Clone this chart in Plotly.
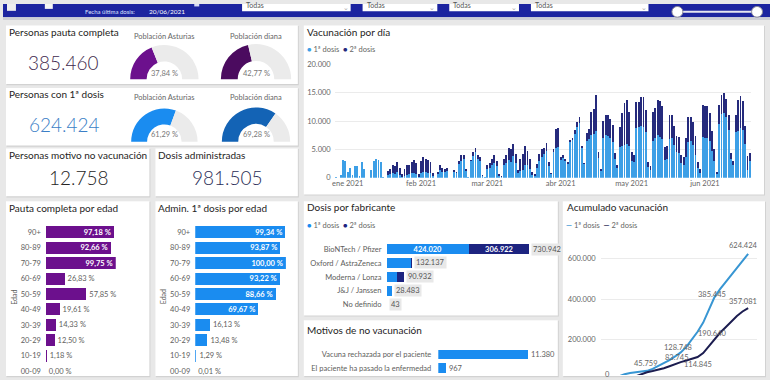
import pandas as pd
import plotly.graph_objects as go

W, H = 770, 380
FONT = "Segoe UI, Lato, sans-serif"

# ---------------- data ----------------
fecha_ultima_dosis = "20/06/2021"
filtros = ["Todas", "Todas", "Todas", "Todas"]

personas_pauta_completa = 385460
personas_primera_dosis = 624424
personas_no_vacunacion = 12758
dosis_administradas = 981505

gauge_etiquetas = ["Población Asturias", "Población diana"]
pauta_completa_pct = [37.84, 42.77]
primera_dosis_pct = [61.29, 69.28]

edades = ["90+", "80-89", "70-79", "60-69", "50-59", "40-49", "30-39", "20-29", "10-19", "00-09"]
pauta_por_edad = [97.18, 92.66, 99.75, 26.83, 57.85, 19.61, 14.33, 12.50, 1.18, 0.00]
primera_por_edad = [99.34, 93.87, 100.00, 93.22, 88.66, 69.67, 16.13, 13.48, 1.29, 0.01]

fabricantes = ["BioNTech / Pfizer", "Oxford / AstraZeneca", "Moderna / Lonza", "J&J / Janssen", "No definido"]
fabricante_dosis1 = [424020, 128137, 56000, 28483, 43]
fabricante_dosis2 = [306922, 4000, 34932, 0, 0]

motivos = ["Vacuna rechazada por el paciente", "El paciente ha pasado la enfermedad"]
motivos_personas = [11380, 967]

inicio = "2020-12-27"
dosis1_dia = [
    200,
    0, 500, 3200, 3000, 1000, 1800, 500,
    2100, 2000, 300, 2700, 1600, 0, 0,
    1400, 3000, 3400, 3100, 2700, 200, 0,
    500, 600, 900, 700, 1000, 500, 200,
    400, 500, 600, 800, 900, 600, 200,
    900, 1100, 1000, 900, 800, 300, 0,
    700, 1300, 1100, 1000, 1200, 0, 0,
    1100, 800, 2500, 3000, 3300, 1200, 200,
    2900, 3900, 4500, 3300, 3000, 400, 200,
    1600, 1700, 2300, 2600, 2000, 400, 200,
    2300, 2600, 3100, 2800, 3800, 2600, 900,
    1200, 1400, 2300, 2200, 1600, 500, 400,
    1800, 3000, 3700, 4200, 4800, 2100, 700,
    4500, 5200, 5500, 3200, 3500, 2900, 2400,
    6300, 6600, 7800, 9000, 9700, 5200, 2400,
    6500, 6800, 7500, 7800, 8200, 3500, 1200,
    7000, 7500, 7300, 7000, 6400, 3300, 1800,
    5500, 5700, 5800, 6000, 5600, 3000, 2800,
    8800, 8900, 9200, 9000, 8000, 1900, 1400,
    6500, 7000, 7500, 7200, 6800, 3200, 3300,
    6900, 7000, 5800, 4500, 4400, 2600, 2300,
    3700, 6300, 6500, 5800, 4000, 1700, 900,
    7200, 7000, 7100, 6500, 4800, 3000, 600,
    9500, 11200, 11400, 10800, 8500, 3300, 2300,
    8000, 8200, 8800, 8500, 6000, 1300, 3000,
]
dosis2_dia = [
    0,
    0, 0, 0, 0, 0, 0, 0,
    0, 0, 0, 0, 0, 0, 0,
    0, 0, 0, 0, 0, 0, 0,
    700, 900, 1300, 1300, 1700, 1300, 500,
    1100, 1700, 1700, 2000, 2200, 2000, 500,
    2100, 2500, 2300, 2200, 1900, 500, 0,
    300, 900, 600, 500, 600, 0, 0,
    200, 200, 500, 1100, 800, 300, 0,
    300, 600, 800, 700, 700, 100, 0,
    700, 900, 1100, 1400, 1000, 200, 100,
    1000, 1400, 2100, 2200, 2200, 1600, 400,
    2100, 2800, 3300, 2600, 1700, 500, 300,
    600, 1200, 1300, 1100, 1300, 600, 200,
    500, 3500, 3300, 500, 500, 400, 400,
    400, 500, 700, 800, 1000, 500, 200,
    1400, 1800, 4200, 4300, 6500, 1100, 300,
    3000, 3500, 3700, 3400, 3000, 1100, 500,
    3500, 5800, 7400, 7700, 6000, 1600, 1300,
    4600, 4500, 5100, 5300, 4000, 900, 600,
    5100, 5400, 6300, 6300, 5800, 2300, 2300,
    4200, 4100, 3400, 2800, 2800, 1400, 1300,
    3400, 4400, 4200, 4000, 3300, 1000, 600,
    5600, 5600, 5600, 5000, 3400, 2000, 400,
    3300, 3500, 3600, 3100, 2500, 1100, 700,
    3100, 5600, 5700, 5000, 3200, 2500, 1400,
]
meses_ticks = ["2021-01-01", "2021-02-01", "2021-03-01", "2021-04-01", "2021-05-01", "2021-06-01"]
meses_etiquetas = ["ene 2021", "feb 2021", "mar 2021", "abr 2021", "may 2021", "jun 2021"]

# accumulated (weekly, from 27/12/2020)
acum_dosis1 = [0, 10000, 19000, 30000, 36000, 40000, 43000, 47000, 57000, 70000, 84000, 100000, 118000,
               138000, 165000, 200000, 240000, 285000, 345000, 410000, 450000, 485000, 517000, 552000,
               590000, 624424]
acum_dosis2 = [0, 0, 0, 2000, 10000, 20000, 32000, 40000, 46000, 52000, 60000, 70000, 82000,
               90000, 98000, 106000, 115000, 135000, 170000, 205000, 235000, 262000, 290000, 318000,
               340000, 357081]
etq_fechas = ["2021-02-13", "2021-03-24", "2021-05-06", "2021-06-20",
              "2021-03-23", "2021-04-18", "2021-05-06", "2021-06-20"]
etq_valores = [45759, 128748, 385445, 624424, 83745, 114845, 190640, 357081]
etq_serie = [1, 1, 1, 1, 2, 2, 2, 2]

# ---------------- helpers ----------------
def px(x):
    return x / W


def py(y):
    return 1 - y / H


def miles(v):
    return f"{v:,}".replace(",", ".")


def pct(v):
    return f"{v:.2f}".replace(".", ",") + " %"


TITLE_C = "#252423"
LABEL_C = "#605e5c"
C1 = "#3d9fe6"
C2 = "#252a7c"
BLUE = "#1a8cf0"
PURPLE = "#6c108d"

fig = go.Figure()
shapes = []
annots = []


def rect(x0, y0, x1, y1, fill, line_color=None, lw=0):
    shapes.append(dict(type="rect", xref="paper", yref="paper", x0=px(x0), x1=px(x1),
                       y0=py(y1), y1=py(y0), fillcolor=fill,
                       line=dict(width=lw, color=line_color or fill), layer="below"))


def text(x, y, s, size=10, color=TITLE_C, xanchor="left", yanchor="middle", weight="normal", **kw):
    annots.append(dict(x=px(x), y=py(y), xref="paper", yref="paper", text=s, showarrow=False,
                       xanchor=xanchor, yanchor=yanchor,
                       font=dict(family=FONT, size=size, color=color, weight=weight), **kw))


# ---------------- banner ----------------
rect(0, 0, 770, 13.5, "#1c24a0")
rect(0, 13.5, 770, 16.5, "#cdced6")
rect(4, 0, 13, 7, "#eeeeee")
rect(42, 0, 50, 5, "#f4f4f4")
rect(192, 0, 197, 2.5, "#d8dcf5")
text(80, 7.3, "Fecha última dosis:", 6, "#dfe3ff")
text(145, 7.3, fecha_ultima_dosis, 6.5, "#ffffff")
for (x0, x1), f in zip([(240, 349), (361, 436), (448, 518), (530, 648)], filtros):
    rect(x0, 0, x1, 7.5, "#ffffff")
    text(x0 + 2, 1.5, f, 7, "#555555")
    text(x1 - 10, 3, "⌄", 7, "#aaaaaa")
shapes.append(dict(type="line", xref="paper", yref="paper", x0=px(677), x1=px(757), y0=py(8), y1=py(8),
                   line=dict(color="#e6e6f0", width=2)))
for cx in (677, 757):
    shapes.append(dict(type="circle", xref="paper", yref="paper", x0=px(cx - 5.5), x1=px(cx + 5.5),
                       y0=py(13.5), y1=py(2.5), fillcolor="#ffffff", line=dict(color="#8a8a9a", width=1)))

# ---------------- cards ----------------
cards = [(3, 22, 296, 82), (3, 86, 296, 145), (3, 148, 147, 197), (153, 148, 296, 197),
         (3, 202, 147, 381), (153, 202, 296, 381), (302, 22, 764, 195), (302, 202, 557, 319),
         (302, 324, 557, 381), (562, 202, 765, 381)]
for x0, y0, x1, y1 in cards:
    rect(x0 + 0.5, y0 + 0.5, x1 + 1, y1 + 1.2, "#d2d2d2")
    rect(x0, y0, x1, y1, "#ffffff")

# titles
text(4, 29, "Personas pauta completa")
text(4, 92, "Personas con 1ª dosis")
text(4, 155, "Personas motivo no vacunación")
text(154, 155, "Dosis administradas")
text(4, 209, "Pauta completa por edad")
text(154, 209, "Admin. 1ª dosis por edad")
text(303, 29, "Vacunación por día")
text(303, 208, "Dosis por fabricante")
text(303, 334, "Motivos de no vacunación")
text(564, 208, "Acumulado vacunación")

# KPI values
text(61, 60, miles(personas_pauta_completa), 19, "#3f2a4e", "center", weight=300)
text(62, 123, miles(personas_primera_dosis), 19, "#3a7ec6", "center", weight=300)
text(76, 178, miles(personas_no_vacunacion), 19, "#252423", "center", weight=300)
text(225, 178, miles(dosis_administradas), 19, "#2b2e57", "center", weight=300)

# ---------------- gauges ----------------
GAUGE_BG = "#ebebeb"


def gauge(cx, cy, r, p, color):
    fig.add_trace(go.Pie(values=[p, 100 - p, 100],
                         marker=dict(colors=[color, GAUGE_BG, "rgba(0,0,0,0)"], line=dict(width=0)),
                         hole=0.52, rotation=270, direction="clockwise", sort=False,
                         textinfo="none", hoverinfo="skip", showlegend=False,
                         domain=dict(x=[px(cx - r), px(cx + r)], y=[py(cy + r), py(cy - r)])))


gauge_centers = [162, 254]
for i, (cx, lab) in enumerate(zip(gauge_centers, gauge_etiquetas)):
    text(cx, 33, lab, 7.5, "#666666", "center")
    text(cx, 96, lab, 7.5, "#666666", "center")
gauge(162, 77, 35, pauta_completa_pct[0], PURPLE)
gauge(254, 77, 36, pauta_completa_pct[1], "#4b0b5f")
gauge(162, 141, 34, primera_dosis_pct[0], BLUE)
gauge(254, 141, 35, primera_dosis_pct[1], "#1363b5")
for cx, v in zip(gauge_centers, pauta_completa_pct):
    text(cx, 71, pct(v), 7.5, "#777777", "center")
for cx, v in zip(gauge_centers, primera_dosis_pct):
    text(cx, 134, pct(v), 7.5, "#777777", "center")

# ---------------- daily bars ----------------
fechas = pd.date_range(inicio, periods=len(dosis1_dia), freq="D")
day_ms = 86400000
fig.add_trace(go.Bar(x=fechas, y=dosis1_dia, marker=dict(color=C1, line=dict(width=0)),
                     width=0.78 * day_ms, xaxis="x", yaxis="y", showlegend=False, hoverinfo="skip"))
fig.add_trace(go.Bar(x=fechas, y=dosis2_dia, marker=dict(color=C2, line=dict(width=0)),
                     width=0.78 * day_ms, xaxis="x", yaxis="y", showlegend=False, hoverinfo="skip"))

legend_bar = (f"<span style='color:{C1}'>●</span> 1ª dosis  "
              f"<span style='color:{C2}'>●</span> 2ª dosis")
text(303, 47, legend_bar, 7.5, "#666666")
text(303, 227, f"<span style='color:{BLUE}'>●</span> 1ª dosis  "
               f"<span style='color:#1d2480'>●</span> 2ª dosis", 7.5, "#666666")

# ---------------- age bars ----------------
def age_trace(vals, color, xa, ya, thr=60):
    pos = ["inside" if v >= thr else "outside" for v in vals]
    txt = [f"<b>{pct(v)}</b>" if v >= thr else pct(v) for v in vals]
    col = ["#ffffff" if v >= thr else LABEL_C for v in vals]
    fig.add_trace(go.Bar(y=edades, x=vals, orientation="h", marker=dict(color=color, line=dict(width=0)),
                         width=0.78, text=txt, textposition=pos, insidetextanchor="end",
                         textangle=0, constraintext="none", cliponaxis=False,
                         textfont=dict(family=FONT, size=7.5, color=col),
                         xaxis=xa, yaxis=ya, showlegend=False, hoverinfo="skip"))


age_trace(pauta_por_edad, PURPLE, "x2", "y2")
age_trace(primera_por_edad, BLUE, "x3", "y3")
text(11, 300, "Edad", 7, LABEL_C, "center", textangle=-90)
text(161, 300, "Edad", 7, LABEL_C, "center", textangle=-90)

# ---------------- manufacturer ----------------
fig.add_trace(go.Bar(y=fabricantes, x=fabricante_dosis1, orientation="h",
                     marker=dict(color=BLUE, line=dict(width=0)), width=0.7,
                     text=[f"<b>{miles(v)}</b>" if v > 200000 else "" for v in fabricante_dosis1],
                     textposition="inside", insidetextanchor="middle", textangle=0, constraintext="none",
                     textfont=dict(family=FONT, size=7.5, color="#ffffff"),
                     xaxis="x4", yaxis="y4", showlegend=False, hoverinfo="skip"))
fig.add_trace(go.Bar(y=fabricantes, x=fabricante_dosis2, orientation="h",
                     marker=dict(color="#1d2480", line=dict(width=0)), width=0.7,
                     text=[f"<b>{miles(v)}</b>" if v > 200000 else "" for v in fabricante_dosis2],
                     textposition="inside", insidetextanchor="middle", textangle=0, constraintext="none",
                     textfont=dict(family=FONT, size=7.5, color="#ffffff"),
                     xaxis="x4", yaxis="y4", showlegend=False, hoverinfo="skip"))
for f, a, b in zip(fabricantes, fabricante_dosis1, fabricante_dosis2):
    annots.append(dict(x=a + b, y=f, xref="x4", yref="y4", text=miles(a + b), showarrow=False,
                       xanchor="left", yanchor="middle", xshift=2, bgcolor="#e8e8e8", borderpad=1,
                       font=dict(family=FONT, size=7.5, color="#555555")))

# ---------------- reasons ----------------
fig.add_trace(go.Bar(y=motivos, x=motivos_personas, orientation="h",
                     marker=dict(color=BLUE, line=dict(width=0)), width=0.72,
                     text=[miles(v) for v in motivos_personas], textposition="outside", cliponaxis=False,
                     textfont=dict(family=FONT, size=7.5, color=LABEL_C),
                     xaxis="x5", yaxis="y5", showlegend=False, hoverinfo="skip"))

# ---------------- accumulated ----------------
acum_fechas = pd.date_range(inicio, periods=len(acum_dosis1), freq="7D")
fig.add_trace(go.Scatter(x=acum_fechas, y=acum_dosis1, mode="lines", line=dict(color="#3896d3", width=2),
                         xaxis="x6", yaxis="y6", showlegend=False, hoverinfo="skip"))
fig.add_trace(go.Scatter(x=acum_fechas, y=acum_dosis2, mode="lines", line=dict(color="#1c1d50", width=2),
                         xaxis="x6", yaxis="y6", showlegend=False, hoverinfo="skip"))
etq_yshift = [8, 7, 8, 8, 6, -7, 8, 7]
etq_xshift = [0, 0, 0, -5, 0, 0, 0, -5]
for f, v, ys, xs in zip(etq_fechas, etq_valores, etq_yshift, etq_xshift):
    annots.append(dict(x=f, y=v, xref="x6", yref="y6", text=miles(v), showarrow=False,
                       xanchor="center", yanchor="middle", yshift=ys, xshift=xs,
                       font=dict(family=FONT, size=7.5, color="#666666")))
annots.append(dict(x=inicio, y=py(379), xref="x6", yref="paper", text="0", showarrow=False,
                   xanchor="center", yanchor="middle",
                   font=dict(family=FONT, size=7.5, color="#666666")))
text(563, 227, "<span style='color:#3896d3'><b>—</b></span> 1ª dosis  "
               "<span style='color:#1c1d50'><b>—</b></span> 2ª dosis", 7.5, "#666666")

t0 = pd.Timestamp(inicio)
tick_font = dict(family=FONT, size=7.5, color="#666666")
cat_font = dict(family=FONT, size=7.5, color=LABEL_C)

fig.update_layout(
    width=W, height=H, autosize=False, margin=dict(l=0, r=0, t=0, b=0, pad=0),
    paper_bgcolor="#e8e8e8", plot_bgcolor="rgba(0,0,0,0)", barmode="stack",
    font=dict(family=FONT),
    shapes=shapes, annotations=annots,
    xaxis=dict(domain=[px(333), px(751)], anchor="y", type="date",
               range=[t0 - pd.Timedelta(hours=12), t0 + pd.Timedelta(days=len(dosis1_dia) - 1, hours=12)],
               tickmode="array", tickvals=meses_ticks, ticktext=meses_etiquetas,
               showgrid=False, zeroline=False, showline=False, ticks="", tickfont=tick_font),
    yaxis=dict(domain=[py(178), py(62)], anchor="x", range=[0, 20000],
               tickmode="array", tickvals=[0, 5000, 10000, 15000, 20000],
               ticktext=[miles(v) for v in [0, 5000, 10000, 15000, 20000]],
               showgrid=True, gridcolor="#ebebeb", gridwidth=1, zeroline=False, ticks="",
               tickfont=tick_font, ticklabelstandoff=3),
    xaxis2=dict(domain=[px(43), px(113.2)], anchor="y2", range=[0, 100], visible=False),
    yaxis2=dict(domain=[0, py(226.1)], anchor="x2", type="category", categoryarray=edades,
                range=[9.253, -0.5], ticks="", showgrid=False, zeroline=False, tickfont=cat_font,
                ticklabelstandoff=4),
    xaxis3=dict(domain=[px(193), px(284)], anchor="y3", range=[0, 100], visible=False),
    yaxis3=dict(domain=[0, py(226.1)], anchor="x3", type="category", categoryarray=edades,
                range=[9.253, -0.5], ticks="", showgrid=False, zeroline=False, tickfont=cat_font,
                ticklabelstandoff=4),
    xaxis4=dict(domain=[px(385), px(541.5)], anchor="y4", range=[0, 800000], visible=False),
    yaxis4=dict(domain=[py(315.1), py(243.9)], anchor="x4", type="category", categoryarray=fabricantes,
                range=[4.5, -0.5], ticks="", showgrid=False, zeroline=False, tickfont=cat_font,
                ticklabelstandoff=4),
    xaxis5=dict(domain=[px(437), px(531.9)], anchor="y5", range=[0, 12000], visible=False),
    yaxis5=dict(domain=[0, py(352)], anchor="x5", type="category", categoryarray=motivos,
                range=[1.5, -0.5], ticks="", showgrid=False, zeroline=False, tickfont=cat_font,
                ticklabelstandoff=6),
    xaxis6=dict(domain=[px(600), px(757)], anchor="y6", type="date",
                range=[t0 - pd.Timedelta(hours=209), t0 + pd.Timedelta(hours=4466)], visible=False),
    yaxis6=dict(domain=[0, py(230)], anchor="x6", range=[26506, 749398],
                tickmode="array", tickvals=[200000, 400000, 600000],
                ticktext=[miles(v) for v in [200000, 400000, 600000]],
                showgrid=True, gridcolor="#ebebeb", zeroline=False, ticks="", tickfont=tick_font,
                ticklabelstandoff=4),
)

fig.write_html(
    "out.html",
    config={"displayModeBar": False, "staticPlot": True},
    post_script=(
        "var h=document.documentElement, b=document.body;"
        "h.style.margin='0'; h.style.padding='0'; h.style.overflow='hidden';"
        "h.style.width='770px'; h.style.height='380px';"
        "b.style.margin='0'; b.style.padding='0'; b.style.overflow='hidden';"
        "b.style.width='770px'; b.style.height='380px';"
        "var g=document.querySelector('.plotly-graph-div');"
        "if(g&&g.parentElement){g.parentElement.style.height='380px';"
        "g.parentElement.style.overflow='hidden';}"
    ),
)
